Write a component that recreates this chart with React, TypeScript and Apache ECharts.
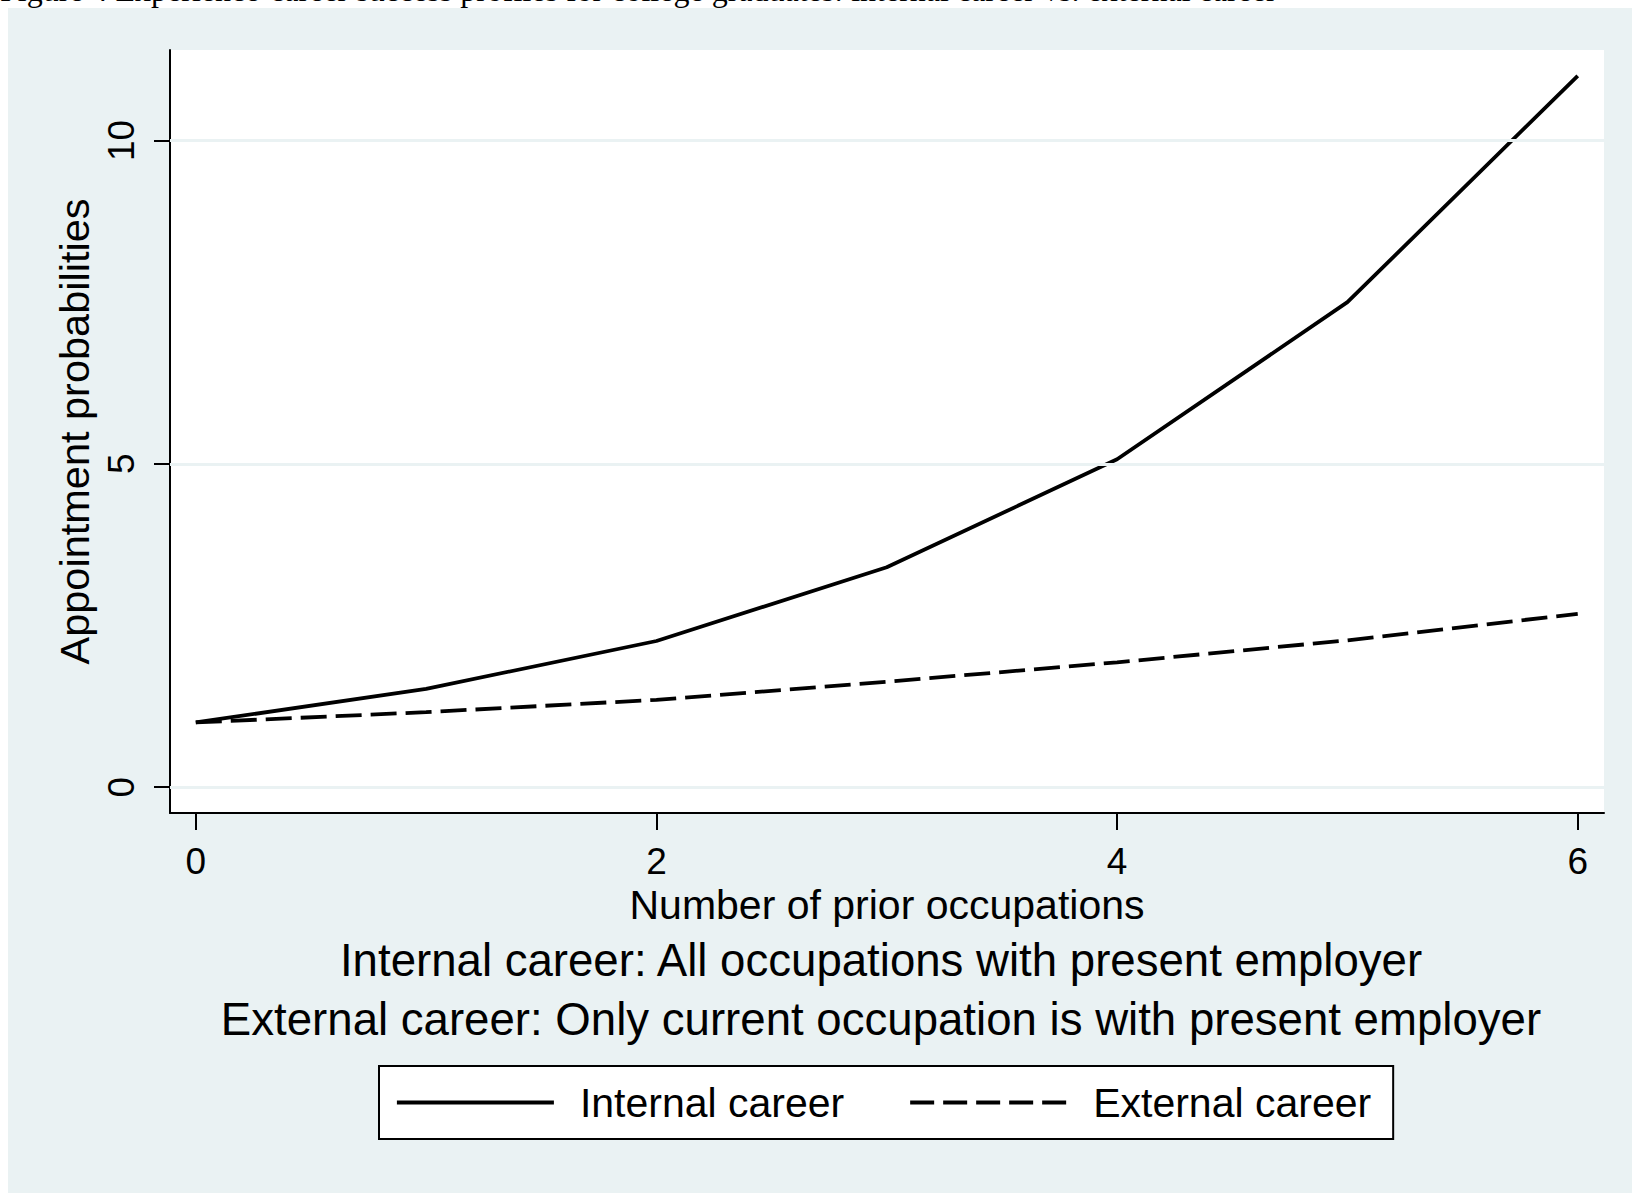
import React, { useEffect, useRef } from "react";
import * as echarts from "echarts";

const priorOccupations = [0, 1, 2, 3, 4, 5, 6];
const internalCareer = [1.0, 1.52, 2.26, 3.4, 5.07, 7.5, 11.0];
const externalCareer = [1.0, 1.16, 1.35, 1.63, 1.93, 2.27, 2.68];
const xTicks = [0, 2, 4, 6];
const yTicks = [0, 5, 10];
const seriesNames = ["Internal career", "External career"];
const figureTitle =
  "Figure 4 Experience-career success profiles for college graduates: internal career vs. external career";
const noteLines = [
  "Internal career: All occupations with present employer",
  "External career: Only current occupation is with present employer",
];

const SANS = "'Liberation Sans', Arial, Helvetica, sans-serif";
const BG = "#eaf2f3";

export default function App() {
  const ref = useRef<HTMLDivElement>(null);
  useEffect(() => {
    if (!ref.current) return;
    const chart = echarts.init(ref.current, null, { renderer: "svg" });
    const toPairs = (ys: number[]) => priorOccupations.map((x, i) => [x, ys[i]]);
    chart.setOption({
      animation: false,
      backgroundColor: "transparent",
      textStyle: { fontFamily: SANS, color: "#000" },
      graphic: [
        {
          type: "rect",
          z: -10,
          shape: { x: 8, y: 8, width: 1624, height: 1185 },
          style: { fill: BG },
          silent: true,
        },
        {
          type: "text",
          z: 10,
          x: 0,
          y: 5.5,
          style: {
            text: figureTitle,
            font: "32px 'Liberation Serif', 'Times New Roman', serif",
            fill: "#000",
            textAlign: "left",
            textVerticalAlign: "bottom",
          },
        },
        ...noteLines.map((t, i) => ({
          type: "text",
          x: 881,
          y: 960 + i * 59.5,
          style: {
            text: t,
            font: `45.6px ${SANS}`,
            fill: "#000",
            textAlign: "center",
            textVerticalAlign: "middle",
          },
        })),
      ],
      grid: {
        left: 170,
        top: 50,
        right: 28,
        bottom: 380,
        show: true,
        backgroundColor: "#ffffff",
        borderWidth: 0,
        containLabel: false,
      },
      legend: {
        data: [
          { name: seriesNames[0], lineStyle: { width: 3.8, color: "#000", type: "solid" } },
          { name: seriesNames[1], lineStyle: { width: 3.8, color: "#000", type: [24, 9] } },
        ],
        left: 379,
        top: 1066,
        orient: "horizontal",
        itemWidth: 157,
        itemHeight: 14,
        itemGap: 64,
        padding: [16, 22, 16, 16],
        backgroundColor: "#ffffff",
        borderColor: "#000",
        borderWidth: 2,
        borderRadius: 0,
        itemStyle: { opacity: 0 },
        textStyle: {
          fontSize: 41,
          fontFamily: SANS,
          color: "#000",
          padding: [0, 0, 0, 21],
        },
      },
      xAxis: {
        type: "value",
        min: -0.112,
        max: 6.114,
        name: "Number of prior occupations",
        nameLocation: "middle",
        nameGap: 66,
        nameTextStyle: { fontSize: 41, fontFamily: SANS, color: "#000" },
        axisLine: { show: true, onZero: false, lineStyle: { color: "#000", width: 2 } },
        axisTick: {
          show: true,
          customValues: xTicks,
          length: 17,
          lineStyle: { color: "#000", width: 2 },
        },
        axisLabel: {
          customValues: xTicks,
          fontSize: 37,
          fontFamily: SANS,
          color: "#000",
          margin: 30,
        },
        splitLine: { show: false },
      },
      yAxis: {
        type: "value",
        min: -0.4,
        max: 11.4,
        name: "Appointment probabilities",
        nameLocation: "middle",
        nameRotate: 90,
        nameGap: 74,
        nameTextStyle: { fontSize: 41.5, fontFamily: SANS, color: "#000" },
        axisLine: { show: true, onZero: false, lineStyle: { color: "#000", width: 2 } },
        axisTick: {
          show: true,
          customValues: yTicks,
          length: 16,
          lineStyle: { color: "#000", width: 2 },
        },
        axisLabel: {
          customValues: yTicks,
          rotate: 90,
          fontSize: 37,
          fontFamily: SANS,
          color: "#000",
          margin: 30,
        },
        splitLine: { show: false },
      },
      series: [
        {
          name: "grid",
          type: "line",
          data: [],
          silent: true,
          markLine: {
            silent: true,
            symbol: "none",
            label: { show: false },
            lineStyle: { color: BG, width: 3, type: "solid" },
            data: yTicks.map((v) => ({ yAxis: v })),
          },
          z: 1,
        },
        {
          name: seriesNames[0],
          type: "line",
          data: toPairs(internalCareer),
          showSymbol: false,
          symbol: "none",
          lineStyle: { color: "#000", width: 3.8, type: "solid" },
          itemStyle: { color: "#000" },
          z: 3,
        },
        {
          name: seriesNames[1],
          type: "line",
          data: toPairs(externalCareer),
          showSymbol: false,
          symbol: "none",
          lineStyle: { color: "#000", width: 3.8, type: [26, 9] },
          itemStyle: { color: "#000" },
          z: 3,
        },
      ],
    });
    return () => chart.dispose();
  }, []);
  return (
    <div
      ref={ref}
      style={{ position: "absolute", left: 0, top: 0, width: 1632, height: 1193 }}
    />
  );
}
